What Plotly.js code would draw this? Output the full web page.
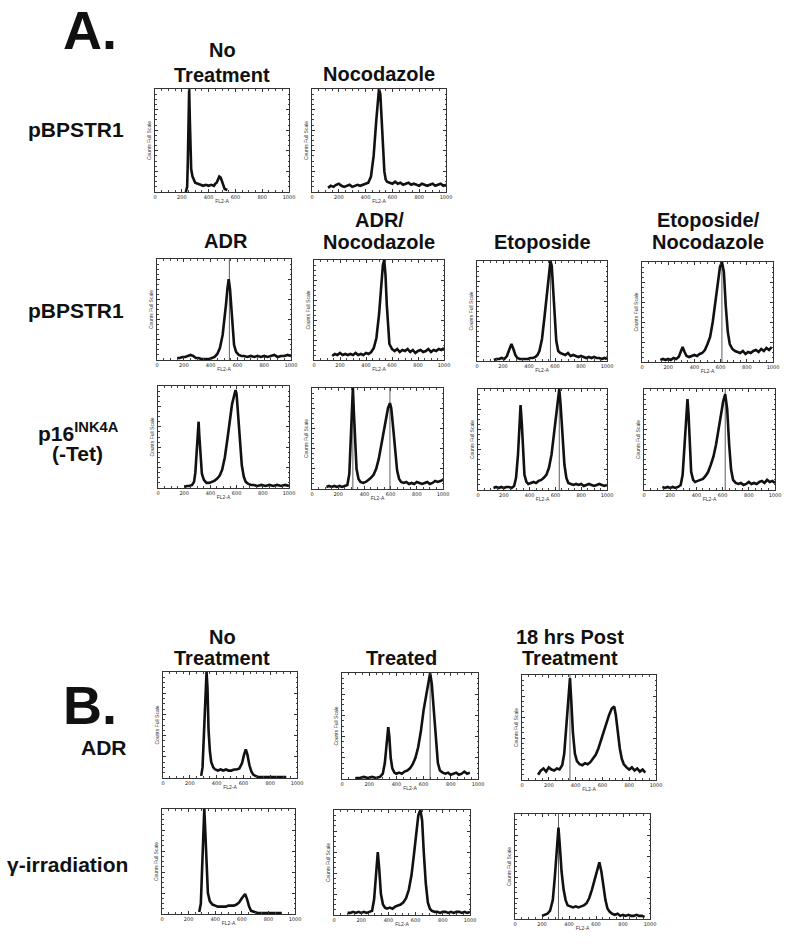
<!DOCTYPE html>
<html>
<head>
<meta charset="utf-8">
<script src="https://cdn.plot.ly/plotly-3.0.1.min.js"></script>
<style>
  body { margin: 0; background: #fff; }
  #chart { width: 800px; height: 944px; }
</style>
</head>
<body>
<div id="chart"></div>
<script>
// DNA content histograms (FL2-A channel vs counts, % of full scale)

// A, row 1: pBPSTR1
const a1X = [230, 240, 245, 250, 255, 260, 265, 270, 280, 290, 300, 320, 340, 360, 380, 400, 420, 440, 450, 460, 470, 480, 490, 500, 510, 520, 540];
const a1Y = [0, 5, 30, 80, 100, 70, 35, 22, 15, 11, 9, 8, 7, 6, 7, 6, 7, 6, 8, 9, 12, 15, 14, 10, 6, 3, 2];
const a2X = [120, 140, 160, 180, 200, 220, 240, 260, 280, 300, 320, 340, 360, 380, 400, 420, 440, 460, 480, 490, 500, 510, 520, 530, 540, 550, 560, 580, 600, 620, 640, 660, 680, 700, 720, 740, 760, 780, 800, 820, 840, 860, 880, 900, 920, 940, 960, 980, 1000];
const a2Y = [4, 6, 5, 7, 8, 6, 5, 6, 7, 5, 6, 7, 6, 7, 8, 9, 15, 35, 70, 90, 100, 95, 70, 40, 20, 12, 10, 9, 8, 10, 8, 9, 7, 8, 9, 7, 8, 7, 6, 8, 7, 6, 7, 8, 6, 7, 8, 6, 7];

// A, row 2: pBPSTR1 + drugs
const a3X = [150, 170, 190, 210, 230, 250, 270, 290, 310, 330, 350, 370, 390, 410, 430, 450, 470, 490, 505, 515, 525, 535, 545, 555, 565, 575, 590, 610, 630, 650, 675, 700, 725, 750, 775, 800, 825, 850, 875, 900, 925, 950, 975, 1000];
const a3Y = [2, 2, 3, 3, 4, 5, 4, 2, 2, 1, 1, 1, 1, 2, 3, 6, 12, 25, 40, 55, 70, 80, 70, 50, 30, 15, 8, 5, 4, 4, 3, 4, 3, 4, 3, 4, 3, 4, 5, 3, 4, 4, 5, 4];
const a4X = [140, 160, 180, 200, 220, 240, 260, 280, 300, 320, 340, 360, 380, 400, 420, 440, 460, 480, 500, 510, 520, 530, 540, 550, 560, 570, 580, 600, 620, 640, 660, 680, 700, 720, 740, 760, 780, 800, 820, 840, 860, 880, 900, 920, 940, 960, 980, 1000];
const a4Y = [4, 6, 5, 7, 5, 6, 5, 6, 5, 7, 5, 6, 5, 7, 6, 8, 12, 22, 45, 65, 85, 95, 100, 85, 55, 30, 16, 11, 9, 11, 8, 10, 9, 11, 8, 10, 7, 9, 10, 8, 9, 11, 8, 10, 9, 11, 10, 12];
const a5X = [130, 150, 170, 190, 210, 230, 250, 265, 280, 295, 310, 330, 350, 370, 390, 410, 430, 450, 465, 480, 500, 520, 540, 555, 565, 575, 585, 595, 610, 625, 640, 660, 680, 700, 720, 740, 760, 780, 800, 820, 840, 860, 880, 900, 920, 940, 960, 980, 1000];
const a5Y = [1, 2, 2, 3, 2, 5, 12, 17, 12, 6, 3, 2, 2, 2, 2, 3, 3, 4, 6, 10, 22, 45, 70, 90, 100, 95, 75, 45, 20, 10, 8, 7, 6, 8, 5, 6, 5, 4, 5, 4, 3, 4, 3, 4, 3, 3, 2, 3, 2];
const a6X = [140, 160, 180, 200, 220, 240, 260, 280, 295, 310, 325, 340, 360, 380, 400, 420, 440, 460, 480, 500, 520, 540, 560, 580, 595, 610, 625, 640, 655, 670, 690, 710, 730, 750, 770, 790, 810, 830, 850, 870, 890, 910, 930, 950, 970, 990];
const a6Y = [2, 3, 2, 3, 2, 4, 3, 5, 10, 15, 10, 6, 5, 6, 7, 6, 8, 9, 12, 18, 25, 40, 60, 80, 95, 100, 90, 55, 30, 18, 13, 11, 10, 9, 11, 8, 10, 9, 11, 12, 10, 13, 11, 14, 12, 15];

// A, row 3: p16INK4A (-Tet) + drugs
const a7X = [200, 220, 240, 260, 275, 285, 295, 305, 310, 315, 325, 335, 350, 370, 390, 410, 430, 450, 470, 490, 510, 530, 550, 565, 580, 592, 600, 610, 625, 640, 655, 670, 690, 710, 730, 760, 790, 820, 850, 880, 910, 940, 970, 1000];
const a7Y = [1, 2, 2, 3, 6, 15, 35, 58, 65, 52, 28, 14, 8, 5, 5, 6, 7, 9, 12, 18, 30, 48, 68, 82, 90, 96, 92, 75, 45, 22, 11, 6, 4, 3, 3, 2, 3, 2, 3, 2, 3, 2, 3, 2];
const a8X = [110, 130, 150, 170, 190, 210, 230, 250, 270, 285, 295, 305, 312, 320, 330, 340, 355, 370, 390, 410, 430, 450, 470, 490, 510, 530, 550, 565, 580, 595, 605, 620, 635, 650, 665, 680, 700, 720, 740, 760, 780, 800, 820, 840, 860, 880, 900, 920, 940, 960, 980, 1000];
const a8Y = [2, 3, 2, 3, 2, 3, 2, 3, 4, 15, 45, 80, 100, 75, 40, 20, 10, 7, 6, 7, 9, 11, 14, 20, 30, 45, 60, 72, 80, 85, 80, 60, 35, 18, 10, 7, 6, 7, 5, 6, 5, 7, 6, 5, 6, 7, 5, 6, 8, 7, 8, 9];
const a9X = [120, 140, 160, 180, 200, 220, 240, 260, 280, 295, 310, 320, 330, 340, 350, 360, 375, 390, 410, 430, 450, 470, 490, 510, 530, 550, 570, 590, 605, 620, 630, 640, 655, 670, 685, 700, 720, 740, 760, 780, 800, 820, 840, 860, 880, 900, 920, 940, 960, 980, 1000];
const a9Y = [2, 3, 2, 3, 2, 3, 3, 2, 4, 12, 35, 60, 84, 65, 35, 15, 8, 6, 7, 8, 7, 9, 10, 12, 15, 22, 35, 55, 75, 90, 100, 85, 55, 25, 12, 7, 6, 5, 6, 5, 6, 4, 5, 6, 5, 4, 5, 6, 5, 4, 5];
const a10X = [140, 160, 180, 200, 220, 240, 260, 280, 295, 310, 325, 332, 340, 350, 360, 375, 390, 410, 430, 450, 470, 490, 510, 530, 550, 570, 590, 605, 620, 635, 650, 665, 680, 700, 720, 740, 760, 780, 800, 820, 840, 860, 880, 900, 920, 940, 960, 980, 1000];
const a10Y = [3, 2, 3, 2, 3, 2, 3, 5, 15, 45, 80, 90, 75, 40, 18, 10, 8, 9, 10, 11, 14, 18, 25, 33, 45, 60, 78, 88, 95, 80, 45, 20, 10, 7, 6, 7, 5, 6, 8, 6, 7, 6, 8, 9, 7, 10, 8, 9, 7];

// B, row 1: ADR
const b1X = [285, 295, 305, 315, 325, 332, 340, 350, 360, 375, 390, 410, 430, 450, 470, 490, 510, 530, 550, 570, 590, 605, 618, 630, 645, 660, 675, 690, 710, 740, 770, 800, 830, 860, 890, 920];
const b1Y = [2, 10, 40, 80, 100, 85, 45, 25, 15, 10, 8, 7, 8, 7, 8, 7, 7, 8, 8, 9, 14, 22, 27, 22, 12, 6, 3, 2, 1, 1, 1, 1, 1, 1, 1, 1];
const b2X = [100, 130, 160, 190, 220, 250, 280, 300, 315, 325, 335, 340, 348, 358, 370, 385, 400, 420, 440, 460, 480, 500, 520, 540, 560, 580, 600, 620, 635, 648, 660, 675, 690, 705, 720, 740, 760, 780, 800, 820, 840, 860, 880, 900, 920, 940];
const b2Y = [1, 1, 2, 1, 2, 1, 2, 5, 15, 30, 45, 49, 40, 20, 10, 6, 5, 6, 5, 7, 8, 10, 14, 20, 30, 45, 65, 80, 92, 100, 90, 65, 35, 15, 8, 6, 5, 6, 4, 5, 6, 4, 5, 7, 5, 6];
const b3X = [120, 140, 160, 180, 200, 220, 240, 260, 280, 300, 315, 330, 345, 358, 368, 380, 395, 410, 430, 450, 470, 490, 510, 530, 550, 570, 590, 610, 630, 650, 670, 688, 700, 715, 730, 745, 760, 780, 800, 820, 840, 860, 880, 900, 920];
const b3Y = [5, 9, 11, 8, 12, 10, 9, 11, 10, 14, 25, 50, 80, 97, 75, 45, 25, 18, 15, 14, 16, 15, 17, 20, 24, 30, 38, 45, 55, 62, 68, 70, 62, 45, 30, 20, 15, 12, 10, 12, 9, 11, 8, 10, 7];

// B, row 2: gamma-irradiation
const b4X = [280, 292, 302, 310, 318, 325, 335, 345, 360, 380, 400, 420, 440, 460, 480, 500, 520, 540, 560, 580, 600, 615, 625, 640, 655, 670, 690, 720, 760, 800, 840, 880, 900];
const b4Y = [2, 10, 45, 85, 100, 80, 40, 20, 12, 9, 8, 7, 7, 7, 7, 8, 8, 8, 9, 11, 15, 18, 19, 14, 7, 3, 2, 1, 1, 1, 1, 1, 1];
const b5X = [100, 120, 140, 160, 180, 200, 220, 240, 260, 280, 295, 310, 322, 332, 345, 360, 375, 390, 410, 430, 450, 470, 490, 510, 530, 550, 570, 590, 605, 620, 635, 648, 660, 675, 690, 705, 720, 740, 760, 780, 800, 820, 840, 860, 880, 900, 920, 940, 960, 980, 1000];
const b5Y = [2, 2, 3, 2, 3, 2, 3, 2, 3, 4, 15, 40, 60, 45, 20, 10, 7, 6, 7, 6, 8, 9, 10, 12, 16, 24, 38, 60, 80, 95, 100, 90, 60, 30, 12, 6, 4, 3, 3, 2, 3, 3, 2, 3, 2, 3, 3, 2, 3, 2, 3];
const b6X = [200, 220, 240, 260, 280, 295, 310, 322, 332, 345, 360, 375, 390, 410, 430, 450, 470, 490, 510, 530, 550, 570, 590, 610, 625, 640, 655, 670, 685, 700, 720, 740, 760, 780, 800, 820, 840, 860, 880, 900, 920, 940, 960];
const b6Y = [3, 4, 5, 8, 18, 40, 70, 87, 70, 45, 28, 18, 13, 12, 11, 12, 11, 12, 13, 15, 20, 28, 38, 48, 54, 45, 30, 18, 10, 7, 5, 4, 5, 3, 4, 3, 4, 3, 3, 4, 3, 3, 2];

// gate / peak marker channels drawn as thin verticals
const a3Marks = [540];
const a5Marks = [565];
const a6Marks = [610];
const a8Marks = [312, 595];
const a9Marks = [630];
const a10Marks = [620];
const b2Marks = [648];
const b3Marks = [358];
const b6Marks = [322];

const xTicks = [0, 200, 400, 600, 800, 1000];

const W = 800, H = 944;

// frame boxes in pixels: [left, top, right, bottom]
const panels = [
    { x: a1X, y: a1Y, m: [], box: [155, 89, 289, 192] },
    { x: a2X, y: a2Y, m: [], box: [312, 89, 446, 192] },
    { x: a3X, y: a3Y, m: a3Marks, box: [157, 259, 291, 360] },
    { x: a4X, y: a4Y, m: [], box: [314, 260, 444, 360] },
    { x: a5X, y: a5Y, m: a5Marks, box: [477, 261, 607, 361] },
    { x: a6X, y: a6Y, m: a6Marks, box: [642, 262, 773, 362] },
    { x: a7X, y: a7Y, m: [], box: [158, 386, 289, 488] },
    { x: a8X, y: a8Y, m: a8Marks, box: [312, 388, 443, 489] },
    { x: a9X, y: a9Y, m: a9Marks, box: [478, 389, 607, 490] },
    { x: a10X, y: a10Y, m: a10Marks, box: [644, 389, 775, 490] },
    { x: b1X, y: b1Y, m: [], box: [163, 672, 297, 778] },
    { x: b2X, y: b2Y, m: b2Marks, box: [342, 673, 478, 779] },
    { x: b3X, y: b3Y, m: b3Marks, box: [522, 675, 656, 780] },
    { x: b4X, y: b4Y, m: [], box: [162, 809, 295, 914] },
    { x: b5X, y: b5Y, m: [], box: [334, 810, 470, 915] },
    { x: b6X, y: b6Y, m: b6Marks, box: [515, 814, 650, 919] }
];

const traces = [];
const layout = {
    width: W,
    height: H,
    margin: { l: 0, r: 0, t: 0, b: 0 },
    paper_bgcolor: "#fff",
    plot_bgcolor: "#fff",
    showlegend: false,
    font: { family: "Liberation Sans, Arial, sans-serif", color: "#111" },
    annotations: []
};

panels.forEach((p, i) => {
    const n = i === 0 ? "" : String(i + 1);
    const [l, t, r, b] = p.box;

    p.m.forEach(mx => {
        traces.push({
            x: [mx, mx], y: [0, 100],
            xaxis: "x" + n, yaxis: "y" + n,
            mode: "lines",
            line: { color: "#333", width: 0.8 },
            hoverinfo: "skip"
        });
    });

    traces.push({
        x: p.x, y: p.y,
        xaxis: "x" + n, yaxis: "y" + n,
        mode: "lines",
        line: { color: "#111", width: 2.6 },
        cliponaxis: true
    });

    layout["xaxis" + n] = {
        domain: [l / W, r / W],
        anchor: "y" + n,
        range: [0, 1000],
        showgrid: false, zeroline: false,
        showline: true, linecolor: "#333", linewidth: 1, mirror: "allticks",
        ticks: "inside", ticklen: 3, tickwidth: 1, tickcolor: "#333",
        tickvals: xTicks,
        minor: { dtick: 50, ticks: "inside", ticklen: 2, tickcolor: "#444" },
        tickfont: { size: 5, family: "DejaVu Sans", color: "#222" },
        title: { text: "FL2-A", font: { size: 5, color: "#333" }, standoff: 0 }
    };
    layout["yaxis" + n] = {
        domain: [1 - b / H, 1 - t / H],
        anchor: "x" + n,
        range: [0, 100],
        showgrid: false, zeroline: false,
        showline: true, linecolor: "#333", linewidth: 1, mirror: "allticks",
        ticks: "inside", ticklen: 3, tickwidth: 1, tickcolor: "#333",
        dtick: 20, showticklabels: false,
        minor: { dtick: 5, ticks: "inside", ticklen: 1.5, tickcolor: "#444" },
        title: { text: "Counts Full Scale", font: { size: 5, color: "#333" }, standoff: 2 }
    };
});

function label(text, x, y, size) {
    layout.annotations.push({
        text: text,
        xref: "paper", yref: "paper",
        x: x / W, y: 1 - y / H,
        xanchor: "center", yanchor: "middle",
        showarrow: false,
        font: { size: size, family: "Liberation Sans, Arial, sans-serif", color: "#111" }
    });
}

// panel letters
label("<b>A.</b>", 90, 30, 54);
label("<b>B.</b>", 90, 705, 54);

// panel A headers
label("<b>No</b>", 222, 50, 20);
label("<b>Treatment</b>", 222, 75, 20);
label("<b>Nocodazole</b>", 379, 74, 20);
label("<b>ADR</b>", 226, 241, 20);
label("<b>ADR/</b>", 379, 220, 20);
label("<b>Nocodazole</b>", 379, 242, 20);
label("<b>Etoposide</b>", 542, 242, 20);
label("<b>Etoposide/</b>", 708, 220, 20);
label("<b>Nocodazole</b>", 708, 242, 20);

// panel A row labels
label("<b>pBPSTR1</b>", 76, 130, 21);
label("<b>pBPSTR1</b>", 76, 310, 21);
label("<b>p16<sup>INK4A</sup></b>", 78, 432, 21);
label("<b>(-Tet)</b>", 77, 454, 21);

// panel B headers
label("<b>No</b>", 222, 637, 20);
label("<b>Treatment</b>", 222, 658, 20);
label("<b>Treated</b>", 402, 658, 20);
label("<b>18 hrs Post</b>", 570, 637, 20);
label("<b>Treatment</b>", 570, 658, 20);

// panel B row labels
label("<b>ADR</b>", 104, 747, 21);
label("<b>γ-irradiation</b>", 67, 864, 21);

Plotly.newPlot("chart", traces, layout, { displayModeBar: false, staticPlot: true });
</script>
</body>
</html>
